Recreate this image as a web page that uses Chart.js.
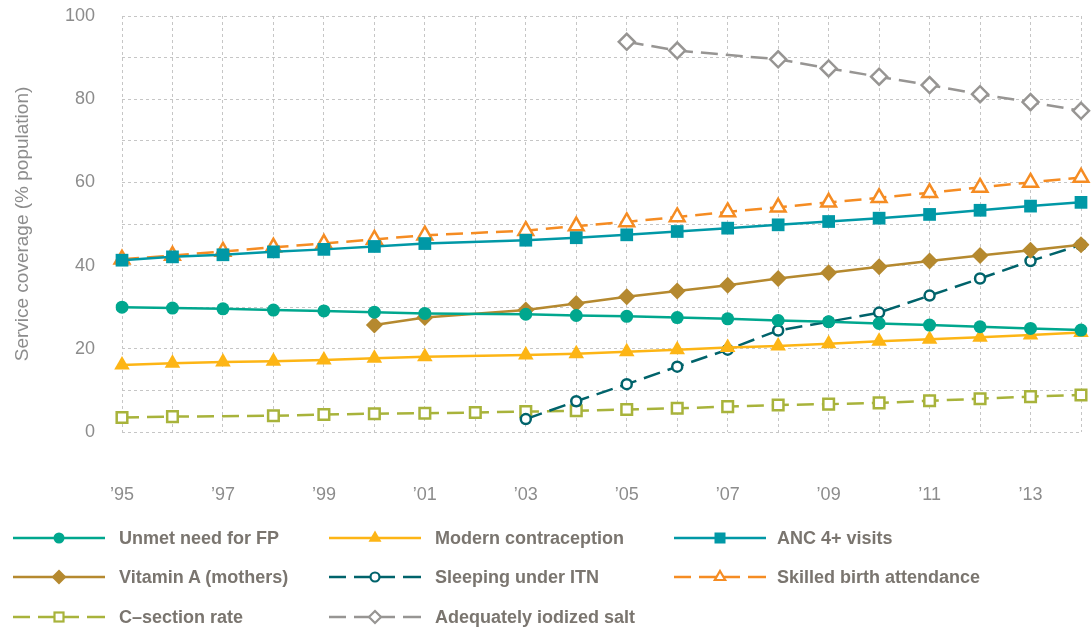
<!DOCTYPE html>
<html>
<head>
<meta charset="utf-8">
<script src="https://cdn.jsdelivr.net/npm/chart.js@4.4.1/dist/chart.umd.min.js"></script>
<style>
  html, body { margin: 0; padding: 0; background: #fff; }
  #wrap { position: relative; width: 1092px; height: 628px; overflow: hidden; }
  #c { position: absolute; left: 0; top: 0; }
  .lg-sym { position: absolute; }
  .lg-txt { position: absolute; font-family: "Liberation Sans", Arial, sans-serif; font-weight: bold;
            font-size: 18px; color: #7a756f; line-height: 22px; white-space: nowrap; }
</style>
</head>
<body>
<div id="wrap">
  <canvas id="c" width="1092" height="628"></canvas>
  <div id="legend"></div>
</div>
<script>
// ---- data ----
const years = [1995,1996,1997,1998,1999,2000,2001,2002,2003,2004,2005,2006,2007,2008,2009,2010,2011,2012,2013,2014];
const tickLabels = ["’95","","’97","","’99","","’01","","’03","","’05","","’07","","’09","","’11","","’13",""];
const seriesNames = ["Unmet need for FP","Modern contraception","ANC 4+ visits","Vitamin A (mothers)","Sleeping under ITN","Skilled birth attendance","C–section rate","Adequately iodized salt"];
const unmetNeedFP =        [30.0,29.8,29.6,29.3,29.1,28.8,28.5,null,28.3,28.0,27.8,27.5,27.2,26.8,26.5,26.1,25.7,25.3,24.9,24.5];
const modernContraception =[16.1,16.5,16.8,17.0,17.3,17.7,18.1,null,18.5,18.8,19.3,19.8,20.3,20.7,21.2,21.8,22.3,22.8,23.3,23.9];
const anc4Visits =         [41.3,42.1,42.6,43.3,43.9,44.6,45.3,null,46.1,46.7,47.4,48.2,49.0,49.8,50.6,51.4,52.3,53.3,54.3,55.2];
const vitaminAMothers =    [null,null,null,null,null,25.7,27.5,null,29.3,30.9,32.5,33.9,35.3,36.9,38.3,39.7,41.1,42.4,43.7,45.0];
const sleepingUnderITN =   [null,null,null,null,null,null,null,null,3.1,7.4,11.5,15.7,19.8,24.4,26.5,28.7,32.8,36.9,41.1,45.0];
const skilledBirth =       [41.5,42.4,43.4,44.4,45.3,46.3,47.3,null,48.4,49.5,50.5,51.7,52.9,54.0,55.2,56.3,57.5,58.8,60.0,61.2];
const cSectionRate =       [3.5,3.7,null,3.9,4.2,4.4,4.5,4.7,4.9,5.1,5.4,5.7,6.1,6.5,6.7,7.0,7.5,8.0,8.5,8.9];
const iodizedSalt =        [null,null,null,null,null,null,null,null,null,null,93.8,91.7,null,89.6,87.4,85.4,83.4,81.2,79.3,77.2];

// ---- styles ----
const COL = {
  unmet: '#00A78E', modern: '#FDB515', anc: '#0098A6', vitA: '#B5892F',
  itn: '#00636B', skilled: '#F58C23', csec: '#A8B33B', salt: '#979593'
};
const DASH = [17, 8];

function ds(label, data, color, style, radius, hollow, dashed) {
  return {
    label, data,
    borderColor: color,
    backgroundColor: hollow ? '#ffffff' : color,
    pointBackgroundColor: hollow ? '#ffffff' : color,
    pointBorderColor: color,
    pointBorderWidth: hollow ? 2.5 : 0,
    pointStyle: style,
    pointRadius: radius,
    pointHoverRadius: radius,
    borderWidth: 2.5,
    borderDash: dashed ? DASH : [],
    spanGaps: true,
    fill: false,
    tension: 0,
    _hollow: hollow, _dashed: dashed
  };
}

const datasets = [
  ds(seriesNames[0], unmetNeedFP, COL.unmet, 'circle', 6.5, false, false),
  ds(seriesNames[1], modernContraception, COL.modern, 'triangle', 9, false, false),
  ds(seriesNames[2], anc4Visits, COL.anc, 'rect', 9, false, false),
  ds(seriesNames[3], vitaminAMothers, COL.vitA, 'rectRot', 8.5, false, false),
  ds(seriesNames[4], sleepingUnderITN, COL.itn, 'circle', 5, true, true),
  ds(seriesNames[5], skilledBirth, COL.skilled, 'triangle', 8.5, true, true),
  ds(seriesNames[6], cSectionRate, COL.csec, 'rect', 7.5, true, true),
  ds(seriesNames[7], iodizedSalt, COL.salt, 'rectRot', 8, true, true)
];

Chart.defaults.font.family = "'Liberation Sans', Arial, sans-serif";

const gridStyle = { color: '#c6c6c6', lineWidth: 1, drawTicks: false };

new Chart(document.getElementById('c'), {
  type: 'line',
  data: { labels: years, datasets },
  options: {
    responsive: false,
    animation: false,
    events: [],
    layout: { padding: { left: 0, right: 11, top: 16, bottom: 116 } },
    plugins: { legend: { display: false }, tooltip: { enabled: false } },
    scales: {
      x: {
        type: 'category',
        offset: false,
        border: { display: false, dash: [3, 3] },
        grid: gridStyle,
        ticks: {
          autoSkip: false, maxRotation: 0, minRotation: 0, padding: 52,
          color: '#8c8c8c', font: { size: 18 },
          callback: (v, i) => tickLabels[i]
        },
        afterFit: (s) => { s.height = 80; s.paddingLeft = 0; s.paddingRight = 0; }
      },
      y: {
        min: 0, max: 100,
        border: { display: false, dash: [3, 3] },
        grid: gridStyle,
        ticks: {
          stepSize: 10, padding: 27, color: '#8c8c8c', font: { size: 18 },
          callback: (v) => (v % 20 === 0 ? String(v) : '')
        },
        title: {
          display: true, text: 'Service coverage (% population)',
          color: '#8c8c8c', font: { size: 19 }, padding: { top: 11, bottom: 0 }
        },
        afterFit: (s) => { s.width = 122; s.paddingTop = 0; s.paddingBottom = 0; }
      }
    }
  }
});

// ---- HTML legend built from the datasets ----
const legendCols = [13, 329, 674];
const legendTextX = [119, 435, 777];
const legendRows = [538, 577, 617];
const legend = document.getElementById('legend');

function markerSvg(d) {
  const cx = 46, cy = 12, c = d.borderColor;
  const fill = d._hollow ? '#fff' : c;
  const sw = d._hollow ? 2.2 : 0;
  const st = `fill="${fill}" stroke="${c}" stroke-width="${sw}"`;
  switch (d.pointStyle) {
    case 'circle': { const r = d._hollow ? 4.5 : 5.5; return `<circle cx="${cx}" cy="${cy}" r="${r}" ${st}/>`; }
    case 'rect': { const h = d._hollow ? 4.5 : 5.5; return `<rect x="${cx-h}" y="${cy-h}" width="${2*h}" height="${2*h}" ${st}/>`; }
    case 'rectRot': { const h = d._hollow ? 6 : 7.5; return `<polygon points="${cx},${cy-h} ${cx+h},${cy} ${cx},${cy+h} ${cx-h},${cy}" ${st}/>`; }
    case 'triangle': { const r = d._hollow ? 6 : 7.5; const w = r*Math.sqrt(3)/2;
      return `<polygon points="${cx},${cy-r} ${cx+w},${cy+r/2} ${cx-w},${cy+r/2}" ${st}/>`; }
  }
  return '';
}

datasets.forEach((d, i) => {
  const col = i % 3, row = Math.floor(i / 3);
  const x = legendCols[col], y = legendRows[row];
  let lines;
  if (d._dashed) {
    lines = [[0,17],[25,66],[74,92]].map(s => `<line x1="${s[0]}" y1="12" x2="${s[1]}" y2="12" stroke="${d.borderColor}" stroke-width="2.5"/>`).join('');
  } else {
    lines = `<line x1="0" y1="12" x2="92" y2="12" stroke="${d.borderColor}" stroke-width="2.5"/>`;
  }
  const sym = document.createElement('div');
  sym.className = 'lg-sym';
  sym.style.left = x + 'px';
  sym.style.top = (y - 12) + 'px';
  sym.innerHTML = `<svg width="94" height="24" xmlns="http://www.w3.org/2000/svg">${lines}${markerSvg(d)}</svg>`;
  legend.appendChild(sym);
  const t = document.createElement('div');
  t.className = 'lg-txt';
  t.style.left = legendTextX[col] + 'px';
  t.style.top = (y - 11) + 'px';
  t.textContent = d.label;
  legend.appendChild(t);
});
</script>
</body>
</html>
